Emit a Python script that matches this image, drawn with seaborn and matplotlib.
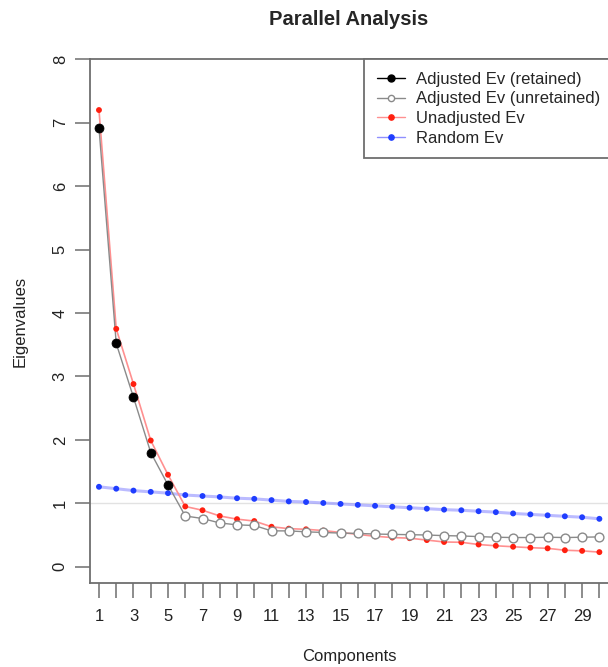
import numpy as np
import pandas as pd
import matplotlib
matplotlib.use("Agg")
import matplotlib.pyplot as plt
import seaborn as sns
from matplotlib.lines import Line2D

# Parallel analysis results (eigenvalues per component)
components = list(range(1, 31))
unadjusted_ev = [7.20, 3.75, 2.88, 1.99, 1.45, 0.95, 0.89, 0.80, 0.75, 0.72,
                 0.63, 0.60, 0.59, 0.57, 0.54, 0.51, 0.48, 0.46, 0.45, 0.42,
                 0.39, 0.385, 0.35, 0.33, 0.315, 0.30, 0.29, 0.26, 0.25, 0.23]
adjusted_ev = [6.92, 3.52, 2.67, 1.80, 1.29, 0.80, 0.76, 0.69, 0.66, 0.65,
               0.565, 0.565, 0.55, 0.54, 0.53, 0.525, 0.515, 0.51, 0.505, 0.50,
               0.49, 0.485, 0.475, 0.465, 0.46, 0.46, 0.465, 0.46, 0.465, 0.47]
random_ev = [1.26, 1.23, 1.20, 1.18, 1.16, 1.13, 1.115, 1.10, 1.08, 1.07,
             1.05, 1.03, 1.02, 1.005, 0.99, 0.975, 0.96, 0.945, 0.93, 0.915,
             0.90, 0.89, 0.875, 0.86, 0.84, 0.825, 0.81, 0.795, 0.78, 0.755]
n_retained = 5
y_ticks = [0, 1, 2, 3, 4, 5, 6, 7, 8]
x_tick_labels = [str(c) if c % 2 == 1 else "" for c in components]
legend_labels = ["Adjusted Ev (retained)", "Adjusted Ev (unretained)",
                 "Unadjusted Ev", "Random Ev"]

sns.set_theme(style="white")
plt.rcParams["font.family"] = ["Liberation Sans", "DejaVu Sans"]

fig = plt.figure(figsize=(6.08, 6.67), dpi=100)
ax = fig.add_axes([90 / 608, 1 - 582.7 / 667, 1 - 90 / 608, (582.7 - 59.3) / 667])

df = pd.DataFrame({
    "component": components,
    "unadjusted": unadjusted_ev,
    "adjusted": adjusted_ev,
    "random": random_ev,
})
df["retained"] = df["component"] <= n_retained

# reference line at eigenvalue 1
ax.axhline(1, color="#e2e2e2", lw=1, zorder=0)

# connecting lines
sns.lineplot(data=df, x="component", y="random", ax=ax, color="#8f8fff",
             lw=2.2, alpha=0.6, zorder=1, legend=False)
sns.lineplot(data=df, x="component", y="unadjusted", ax=ax, color="#ff9090",
             lw=1.2, zorder=2, legend=False)
sns.lineplot(data=df, x="component", y="adjusted", ax=ax, color="#8a8a8a",
             lw=1.0, zorder=2, legend=False)

# points
sns.scatterplot(data=df, x="component", y="random", ax=ax, color="#1f3dff",
                s=18, edgecolor="none", zorder=3, legend=False)
sns.scatterplot(data=df, x="component", y="unadjusted", ax=ax, color="#ff2010",
                s=18, edgecolor="none", zorder=4, legend=False)
sns.scatterplot(data=df[df["retained"]], x="component", y="adjusted", ax=ax,
                color="black", s=42, edgecolor="black", zorder=5, legend=False)
sns.scatterplot(data=df[~df["retained"]], x="component", y="adjusted", ax=ax,
                color="white", s=40, edgecolor="#8a8a8a", linewidth=1.0,
                zorder=5, legend=False)

ax.set_xlim(0.48, 30.5)
ax.set_ylim(-0.252, 8.0)
ax.set_xticks(components)
ax.set_xticklabels(x_tick_labels)
ax.set_yticks(y_ticks)
ax.set_yticklabels([str(v) for v in y_ticks], rotation=90, va="center")

for side in ["left", "bottom", "top"]:
    ax.spines[side].set_visible(True)
    ax.spines[side].set_color("#6e6e6e")
    ax.spines[side].set_linewidth(1.3)
ax.spines["right"].set_visible(False)

ax.tick_params(axis="both", which="both", direction="out", length=11,
               width=1.1, color="#6e6e6e", labelsize=12, labelcolor="#222222",
               bottom=True, left=True)
ax.tick_params(axis="x", pad=8)
ax.tick_params(axis="y", pad=5)

ax.set_xlabel("Components", fontsize=12, color="#222222", labelpad=18)
ax.set_ylabel("Eigenvalues", fontsize=12, color="#222222", labelpad=18)
ax.set_title("Parallel Analysis", fontsize=14.5, fontweight="bold", pad=25)

handles = [
    Line2D([], [], color="black", lw=1, marker="o", markersize=5,
           markerfacecolor="black", markeredgecolor="black"),
    Line2D([], [], color="#8a8a8a", lw=1, marker="o", markersize=4.5,
           markerfacecolor="white", markeredgecolor="#8a8a8a"),
    Line2D([], [], color="#ff9090", lw=1, marker="o", markersize=3.8,
           markerfacecolor="#ff2010", markeredgecolor="#ff2010"),
    Line2D([], [], color="#8f8fff", lw=1, marker="o", markersize=3.8,
           markerfacecolor="#1f3dff", markeredgecolor="#1f3dff"),
]
leg = ax.legend(handles, legend_labels, loc="upper left",
                bbox_to_anchor=((364 - 90) / (608 - 90), 1.0),
                frameon=True, fancybox=False, fontsize=12, handlelength=1.7,
                handletextpad=0.7, labelspacing=0.28, borderpad=0.75,
                borderaxespad=0.0)
leg.get_frame().set_edgecolor("#6e6e6e")
leg.get_frame().set_linewidth(1.3)
leg.get_frame().set_alpha(1)

fig.savefig("out.png", dpi=100)
